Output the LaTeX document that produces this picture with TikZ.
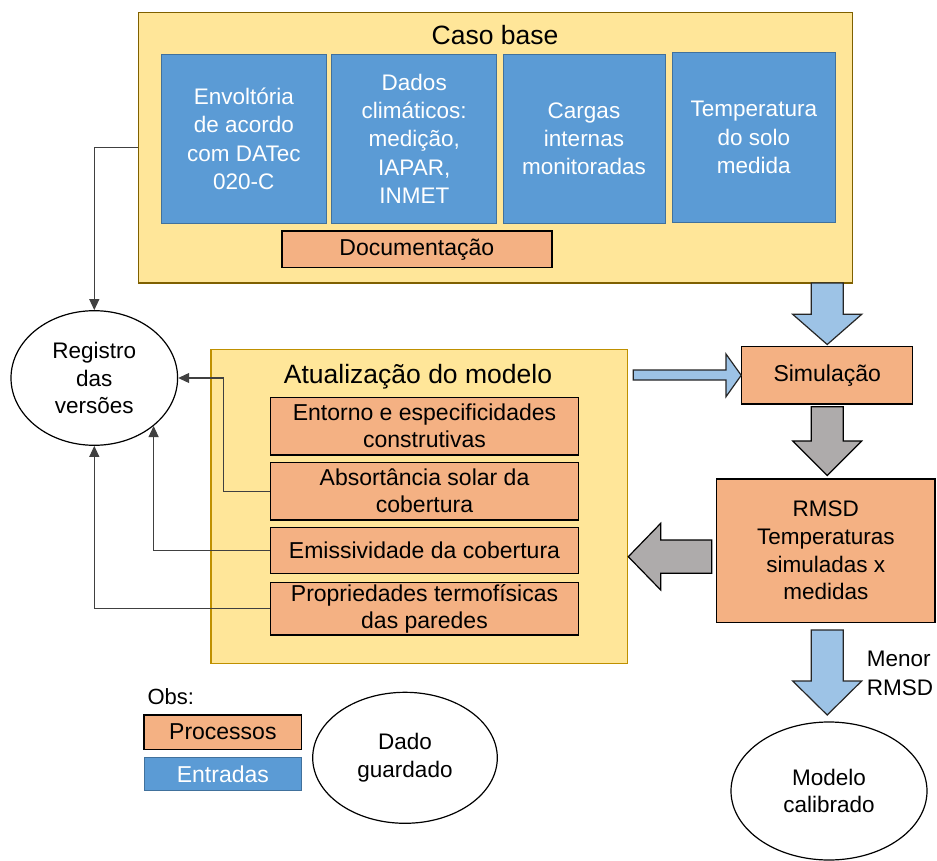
\documentclass[tikz,border=0pt]{standalone}
\usepackage{fontspec}
\setmainfont{Liberation Sans}
\usetikzlibrary{arrows.meta,shapes.geometric,calc}
\definecolor{yfill}{HTML}{FFE699}
\definecolor{casobord}{HTML}{7F6000}
\definecolor{atubord}{HTML}{BF9000}
\definecolor{bfill}{HTML}{5B9BD5}
\definecolor{bbord}{HTML}{41719C}
\definecolor{ofill}{HTML}{F4B183}
\definecolor{abfill}{HTML}{9DC3E6}
\definecolor{agfill}{HTML}{AEABAB}
\definecolor{conncol}{HTML}{404040}
\newcommand\mkbox[7][]{%
  \pgfmathsetmacro\cxx{(#3+#5)/2}\pgfmathsetmacro\cyy{(#4+#6)/2}%
  \pgfmathsetmacro\www{#5-#3}\pgfmathsetmacro\hhh{#6-#4}%
  \node[#1, minimum width=\www pt, minimum height=\hhh pt, inner sep=0pt] (#2) at (\cxx,\cyy) {#7};}
\newcommand\blockdown[5]{%
  \draw[#1] (#2-16,#3) -- (#2+16,#3) -- (#2+16,#4) -- (#2+34.5,#4) -- (#2,#5)
    -- (#2-34.5,#4) -- (#2-16,#4) -- cycle;}
\tikzset{
  outerbox/.style={rectangle, fill=yfill, line width=1.5pt},
  inbox/.style={rectangle, fill=bfill, draw=bbord, line width=1pt, text=white, align=center,
    font=\fontsize{22.5}{28.2}\selectfont},
  procbox/.style={rectangle, fill=ofill, draw=black, line width=1.5pt, align=center,
    font=\fontsize{23}{27}\selectfont},
  oval/.style={ellipse, draw=black, line width=1.2pt, fill=white, inner sep=0pt, align=center,
    font=\fontsize{22.5}{27.7}\selectfont},
  conn/.style={draw=conncol, line width=1.1pt, -{Triangle[length=11pt,width=10pt]}},
  blue arrow/.style={fill=abfill, draw=black!85, line width=1.2pt, line join=miter},
  gray arrow/.style={fill=agfill, draw=black, line width=1.2pt, line join=miter},
  title/.style={anchor=base, inner sep=0pt, font=\fontsize{26.5}{30}\selectfont}
}
\begin{document}
\begin{tikzpicture}[x=1pt,y=-1pt]
\path[use as bounding box, fill=white] (0,0) rectangle (937,861);

% Caso base
\mkbox[outerbox, draw=casobord]{caso}{138.3}{12.7}{852.3}{283}{}
\node[title] (casot) at (495,45) {Caso base};
\mkbox[inbox]{env}{161}{54.3}{326.7}{223.3}{Envoltória\\de acordo\\com DATec\\020-C}
\mkbox[inbox]{clim}{331.7}{54.3}{496.8}{223.3}{Dados\\climáticos:\\medição,\\IAPAR,\\INMET}
\mkbox[inbox]{carg}{503}{54.3}{665}{223.3}{Cargas\\internas\\monitoradas}
\mkbox[inbox]{solo}{672.7}{52.7}{835}{222.3}{Temperatura\\do solo\\medida}
\mkbox[procbox]{doc}{281.8}{231}{551.8}{267.7}{Documentação}

% Atualizacao do modelo
\mkbox[outerbox, draw=atubord]{atu}{211}{349.3}{627.3}{663.3}{}
\node[title] (atut) at (418,383) {Atualização do modelo};
\mkbox[procbox]{ent}{270.7}{397.3}{578.3}{455}{Entorno e especificidades\\construtivas}
\mkbox[procbox]{abs}{270.7}{462.3}{578.3}{520}{Absortância solar da\\cobertura}
\mkbox[procbox]{emi}{270.7}{527.7}{578.3}{573.3}{Emissividade da cobertura}
\mkbox[procbox]{pro}{270.7}{582.3}{578.3}{635}{Propriedades termofísicas\\das paredes}

% Registro das versoes
\node[oval, minimum width=166.6pt, minimum height=134.6pt] (reg) at (94.3,378) {Registro\\das\\versões};

% Right column
\mkbox[procbox, font=\fontsize{23}{27}\selectfont]{sim}{741.7}{346.7}{912.7}{404}{Simulação}
\mkbox[procbox, font=\fontsize{22.5}{27.7}\selectfont]{rmsd}{716.7}{479}{935}{622.3}{RMSD\\Temperaturas\\simuladas x\\medidas}
\node[oval, minimum width=196pt, minimum height=138pt] (cal) at (829,791) {Modelo\\calibrado};
\node[anchor=base west, inner sep=0pt, align=left, font=\fontsize{22.5}{28.3}\selectfont] (menor) at (866.7,695) {Menor\\RMSD};

% Block arrows
\blockdown{blue arrow}{827.2}{283}{314.3}{344.5}
\blockdown{gray arrow}{827.2}{406.7}{441}{475.5}
\blockdown{blue arrow}{827.2}{630}{681}{715}
\draw[blue arrow] (633.3,370) -- (726,370) -- (726,354) -- (741.2,375.3) -- (726,396.7) -- (726,380) -- (633.3,380) -- cycle;
\draw[gray arrow] (711.7,540) -- (660.7,540) -- (660.7,523.3) -- (628.3,556.7) -- (660.7,590) -- (660.7,573.3) -- (711.7,573.3) -- cycle;

% Connectors to Registro
\draw[conn] (caso.west) -| (reg.north);
\draw[conn] (abs.west) -- ++(-46.4,0) |- (reg.east);
\draw[conn] (emi.west) -| (reg.-39);
\draw[conn] (pro.west) -| (reg.south);

% Legend
\node[anchor=base west, inner sep=0pt, font=\fontsize{22}{26}\selectfont] (obs) at (147.3,704.3) {Obs:};
\mkbox[procbox]{lproc}{144}{715}{301.7}{749.3}{Processos}
\mkbox[inbox, font=\fontsize{23}{27}\selectfont]{lent}{144}{757.7}{301.7}{790}{Entradas}
\node[oval, minimum width=184.6pt, minimum height=131pt] (dado) at (405,757.8) {Dado\\guardado};
\end{tikzpicture}
\end{document}
